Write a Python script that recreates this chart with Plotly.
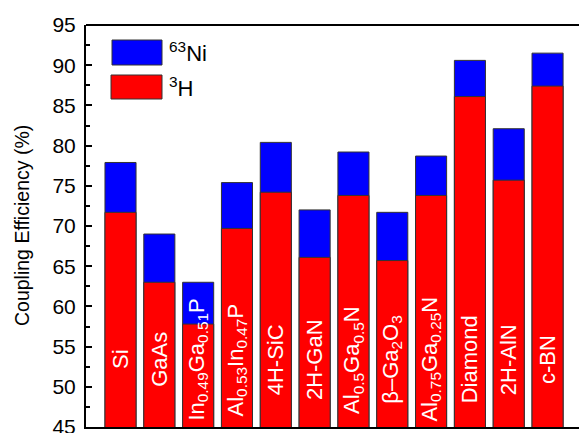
import plotly.graph_objects as go

# ---- data ----
materials = [
    "Si",
    "GaAs",
    "In<sub>0.49</sub>Ga<sub>0.51</sub>P",
    "Al<sub>0.53</sub>In<sub>0.47</sub>P",
    "4H-SiC",
    "2H-GaN",
    "Al<sub>0.5</sub>Ga<sub>0.5</sub>N",
    "β–Ga<sub>2</sub>O<sub>3</sub>",
    "Al<sub>0.75</sub>Ga<sub>0.25</sub>N",
    "Diamond",
    "2H-AlN",
    "c-BN",
]
positions = list(range(1, 13))
eff_3h = [71.7, 63.0, 57.8, 69.7, 74.2, 66.1, 73.8, 65.7, 73.8, 86.1, 75.7, 87.4]
eff_63ni = [77.9, 69.0, 63.0, 75.4, 80.4, 72.0, 79.2, 71.7, 78.7, 90.6, 82.1, 91.5]
y_tick_vals = [45, 50, 55, 60, 65, 70, 75, 80, 85, 90, 95]
legend_names = ["<sup>63</sup>Ni", "<sup>3</sup>H"]

FONT = "Liberation Sans, Arial, sans-serif"
RED = "#FF0000"
BLUE = "#0000FF"
EDGE = "#333333"

fig = go.Figure()
fig.add_trace(go.Bar(x=positions, y=eff_63ni, width=0.8, marker=dict(color=BLUE, line=dict(color=EDGE, width=1)),
                     name=legend_names[0], showlegend=False))
fig.add_trace(go.Bar(x=positions, y=eff_3h, width=0.8, marker=dict(color=RED, line=dict(color=EDGE, width=1)),
                     name=legend_names[1], showlegend=False))

annotations = []
for xp, lab in zip(positions, materials):
    annotations.append(dict(x=xp, y=53.4, xref="x", yref="y", text=lab, textangle=-90,
                            showarrow=False, xanchor="center", yanchor="middle",
                            font=dict(family=FONT, size=22, color="white")))

# y-axis title
annotations.append(dict(x=-0.1298, y=0.5, xref="paper", yref="paper", text="Coupling Efficiency (%)",
                        textangle=-90, showarrow=False, xanchor="center", yanchor="middle",
                        font=dict(family=FONT, size=19.5, color="black")))

# manual legend
PW, PH = 493.0, 402.0
def px(x):
    return (x - 86) / PW
def py(y):
    return (427 - y) / PH

shapes = [
    dict(type="rect", xref="paper", yref="paper", x0=px(112), x1=px(162), y0=py(65), y1=py(40),
         fillcolor=BLUE, line=dict(color=EDGE, width=1)),
    dict(type="rect", xref="paper", yref="paper", x0=px(111), x1=px(162), y0=py(99), y1=py(75),
         fillcolor=RED, line=dict(color=EDGE, width=1)),
    dict(type="line", xref="paper", yref="paper", x0=0, x1=1, y0=1, y1=1,
         line=dict(color="black", width=2)),
]
annotations.append(dict(x=px(167), y=py(52), xref="paper", yref="paper", text=legend_names[0],
                        showarrow=False, xanchor="left", yanchor="middle",
                        font=dict(family=FONT, size=22, color="black")))
annotations.append(dict(x=px(167), y=py(87), xref="paper", yref="paper", text=legend_names[1],
                        showarrow=False, xanchor="left", yanchor="middle",
                        font=dict(family=FONT, size=22, color="black")))

fig.update_layout(
    width=579, height=433,
    margin=dict(l=86, r=0, t=25, b=6, autoexpand=False),
    barmode="overlay",
    plot_bgcolor="white", paper_bgcolor="white",
    showlegend=False,
    annotations=annotations,
    shapes=shapes,
    font=dict(family=FONT, color="black"),
)
fig.update_xaxes(range=[0.111, 12.81], showticklabels=False, ticks="", showgrid=False, zeroline=False,
                 showline=True, linecolor="black", linewidth=2, automargin=False)
fig.update_yaxes(range=[45, 95], tickvals=y_tick_vals, ticks="inside", ticklen=6, tickwidth=1.5,
                 tickcolor="black", showgrid=False, zeroline=False, showline=True, linecolor="black",
                 linewidth=2, tickfont=dict(family=FONT, size=21, color="black"), ticklabelstandoff=4,
                 automargin=False, ticklabeloverflow="allow",
                 minor=dict(ticks="inside", ticklen=4, tickwidth=1.5, tickcolor="black", tick0=45, dtick=2.5))

fig.write_html("out.html", config={"displayModeBar": False},
               post_script="document.body.style.margin='0';document.body.style.overflow='hidden';")
